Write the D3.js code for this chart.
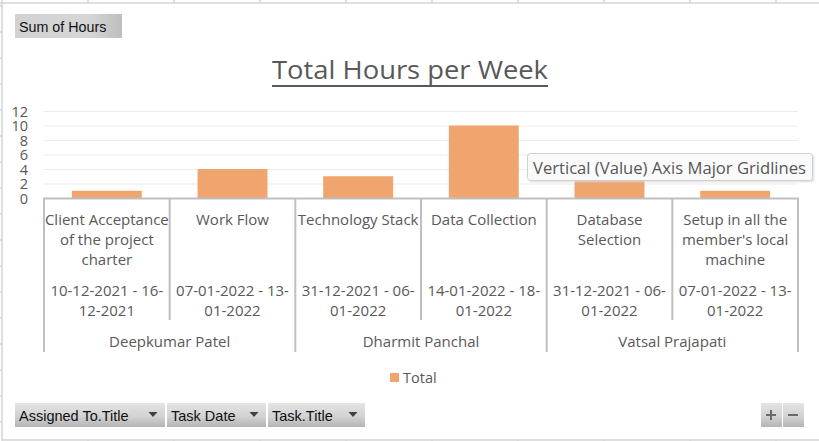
<!DOCTYPE html>
<html>
<head>
<meta charset="utf-8">
<script src="https://cdn.jsdelivr.net/npm/d3@7"></script>
<style>
  html, body { margin: 0; padding: 0; background: #fff; }
  svg { display: block; }
</style>
</head>
<body>
<svg id="chart" width="819" height="441"></svg>
<script>
// ---- data ----
const assignees = ["Deepkumar Patel", "Dharmit Panchal", "Vatsal Prajapati"];
const assigneeOf = [0, 0, 1, 1, 2, 2];
const taskTitles = [
  ["Client Acceptance", "of the project", "charter"],
  ["Work Flow"],
  ["Technology Stack"],
  ["Data Collection"],
  ["Database", "Selection"],
  ["Setup in all the", "member's local", "machine"]
];
const taskDates = [
  ["10-12-2021 - 16-", "12-2021"],
  ["07-01-2022 - 13-", "01-2022"],
  ["31-12-2021 - 06-", "01-2022"],
  ["14-01-2022 - 18-", "01-2022"],
  ["31-12-2021 - 06-", "01-2022"],
  ["07-01-2022 - 13-", "01-2022"]
];
const totals = [1, 4, 3, 10, 3, 1];
const yTicks = [0, 2, 4, 6, 8, 10, 12];
const seriesName = "Total";
const chartTitle = "Total Hours per Week";
const fieldButtons = ["Assigned To.Title", "Task Date", "Task.Title"];

// ---- setup ----
const svg = d3.select("#chart");
const textColor = "#595959";
const axisColor = "#bfbfbf";
const barColor = "#f1a56e";
const font = "'Open Sans', 'Segoe UI', sans-serif";

// gradient for buttons
const defs = svg.append("defs");
const g1 = defs.append("linearGradient").attr("id", "btn").attr("x1", 0).attr("y1", 0).attr("x2", 0).attr("y2", 1);
g1.append("stop").attr("offset", "0%").attr("stop-color", "#e4e4e4");
g1.append("stop").attr("offset", "55%").attr("stop-color", "#d3d3d3");
g1.append("stop").attr("offset", "100%").attr("stop-color", "#b4b4b4");
const g2 = defs.append("linearGradient").attr("id", "btn2").attr("x1", 0).attr("y1", 0).attr("x2", 1).attr("y2", 0);
g2.append("stop").attr("offset", "0%").attr("stop-color", "#d2d2d2");
g2.append("stop").attr("offset", "70%").attr("stop-color", "#d6d6d6");
g2.append("stop").attr("offset", "100%").attr("stop-color", "#bdbdbd");

// spreadsheet frame
const frame = svg.append("g").attr("stroke", "#d4d4d4").attr("stroke-width", 1.5).attr("fill", "none");
frame.append("line").attr("x1", 0).attr("x2", 819).attr("y1", 3).attr("y2", 3);
frame.append("line").attr("x1", 2).attr("x2", 2).attr("y1", 3).attr("y2", 440);
frame.append("line").attr("x1", 2).attr("x2", 819).attr("y1", 440).attr("y2", 440);
for (let c = 0; c < 10; c++) {
  const x = 2 + 86 * c;
  frame.append("line").attr("x1", x).attr("x2", x).attr("y1", 0).attr("y2", 3);
  frame.append("line").attr("x1", x).attr("x2", x).attr("y1", 440).attr("y2", 441);
}
for (let r = 0; r < 17; r++) {
  const y = 6 + 26 * r;
  frame.append("line").attr("x1", 0).attr("x2", 2).attr("y1", y).attr("y2", y);
}

// ---- scales ----
const plotLeft = 44, plotRight = 798, y0 = 198, yTop = 111;
const x = d3.scaleBand().domain(d3.range(totals.length)).range([plotLeft, plotRight]).paddingInner(0).paddingOuter(0);
const xInner = d3.scaleBand().domain([seriesName]).range([0, x.bandwidth()]).padding(0.285);
const y = d3.scaleLinear().domain([0, 12]).range([y0, yTop]);

// gridlines
svg.append("g").selectAll("line").data(yTicks.filter(d => d > 0)).join("line")
  .attr("x1", plotLeft).attr("x2", plotRight)
  .attr("y1", d => y(d) + 0.5).attr("y2", d => y(d) + 0.5)
  .attr("stroke", "#ebebeb").attr("stroke-width", 1);

// y axis
const yAxis = svg.append("g").attr("transform", `translate(${plotLeft},0)`)
  .call(d3.axisLeft(y).tickValues(yTicks).tickSize(0).tickPadding(16));
yAxis.select(".domain").remove();
yAxis.selectAll("text").attr("fill", textColor).attr("font-family", font).attr("font-size", 14.5).attr("dy", "0.36em");

// bars
svg.append("g").selectAll("rect").data(totals).join("rect")
  .attr("x", (d, i) => x(i) + xInner(seriesName))
  .attr("width", xInner.bandwidth())
  .attr("y", d => y(d))
  .attr("height", d => y(0) - y(d))
  .attr("fill", barColor);

// x axis multi-level
const ax = svg.append("g").attr("stroke", axisColor).attr("stroke-width", 2).attr("fill", "none");
ax.append("line").attr("x1", plotLeft - 1).attr("x2", plotRight + 1).attr("y1", y0 + 0.5).attr("y2", y0 + 0.5);
const bounds = d3.range(totals.length + 1);
bounds.forEach(b => {
  const bx = b < totals.length ? x(b) : x(totals.length - 1) + x.bandwidth();
  const groupEdge = b === 0 || b === totals.length || assigneeOf[b] !== assigneeOf[b - 1];
  ax.append("line").attr("x1", bx).attr("x2", bx).attr("y1", y0).attr("y2", groupEdge ? 352 : 320);
});

const lab = svg.append("g").attr("fill", textColor).attr("font-family", font).attr("font-size", 15).attr("text-anchor", "middle");
taskTitles.forEach((lines, i) => {
  lines.forEach((ln, j) => {
    lab.append("text").attr("x", x(i) + x.bandwidth() / 2).attr("y", 224.5 + 20 * j).text(ln);
  });
});
taskDates.forEach((lines, i) => {
  lines.forEach((ln, j) => {
    lab.append("text").attr("x", x(i) + x.bandwidth() / 2).attr("y", 295.5 + 20 * j).text(ln);
  });
});
assignees.forEach((name, k) => {
  const idx = assigneeOf.map((a, i) => a === k ? i : -1).filter(i => i >= 0);
  const x1 = x(idx[0]), x2 = x(idx[idx.length - 1]) + x.bandwidth();
  lab.append("text").attr("x", (x1 + x2) / 2).attr("y", 346.5).text(name);
});

// title
svg.append("text").attr("x", 410).attr("y", 79)
  .attr("text-anchor", "middle").attr("fill", textColor)
  .attr("font-family", font).attr("font-size", 25.5)
  .attr("textLength", 276).attr("lengthAdjust", "spacingAndGlyphs")
  .text(chartTitle);
svg.append("line").attr("x1", 272).attr("x2", 548).attr("y1", 86).attr("y2", 86)
  .attr("stroke", textColor).attr("stroke-width", 2);

// legend
svg.append("rect").attr("x", 390).attr("y", 373).attr("width", 9).attr("height", 9).attr("fill", barColor);
svg.append("text").attr("x", 403).attr("y", 383).attr("fill", textColor)
  .attr("font-family", font).attr("font-size", 14.5).text(seriesName);

// tooltip
svg.append("rect").attr("x", 528.5).attr("y", 154.5).attr("width", 286).attr("height", 28).attr("rx", 3)
  .attr("fill", "#d8d8d8").attr("opacity", 0.6);
svg.append("rect").attr("x", 527.5).attr("y", 153.5).attr("width", 285).attr("height", 27).attr("rx", 3)
  .attr("fill", "#fafafa").attr("stroke", "#cfcfcf");
svg.append("text").attr("x", 533).attr("y", 174).attr("fill", "#575757")
  .attr("font-family", font).attr("font-size", 15.5).attr("textLength", 273).attr("lengthAdjust", "spacingAndGlyphs")
  .text("Vertical (Value) Axis Major Gridlines");

// field buttons
const btnFont = "'Liberation Sans', Arial, sans-serif";
svg.append("rect").attr("x", 15).attr("y", 14).attr("width", 107).attr("height", 24).attr("fill", "url(#btn2)");
svg.append("text").attr("x", 19).attr("y", 31.5).attr("fill", "#111").attr("font-family", btnFont).attr("font-size", 14.3).text("Sum of Hours");

const btnX = [15, 167, 268], btnW = [150, 99, 97];
fieldButtons.forEach((t, i) => {
  svg.append("rect").attr("x", btnX[i]).attr("y", 403).attr("width", btnW[i]).attr("height", 24).attr("fill", "url(#btn)");
  svg.append("text").attr("x", btnX[i] + 4).attr("y", 420.5).attr("fill", "#111")
    .attr("font-family", btnFont).attr("font-size", 14.5).text(t);
  const tx = btnX[i] + btnW[i] - 12;
  svg.append("path").attr("d", `M${tx - 4.5},412 L${tx + 4.5},412 L${tx},417 Z`).attr("fill", "#404040");
});
// + / - buttons
[761, 783].forEach(bx => {
  svg.append("rect").attr("x", bx).attr("y", 403).attr("width", 21).attr("height", 24).attr("fill", "url(#btn)");
});
svg.append("path").attr("d", "M766,415 L776,415 M771,410 L771,420").attr("stroke", "#6a6a6a").attr("stroke-width", 2);
svg.append("path").attr("d", "M788,415 L798,415").attr("stroke", "#6a6a6a").attr("stroke-width", 2);
</script>
</body>
</html>
